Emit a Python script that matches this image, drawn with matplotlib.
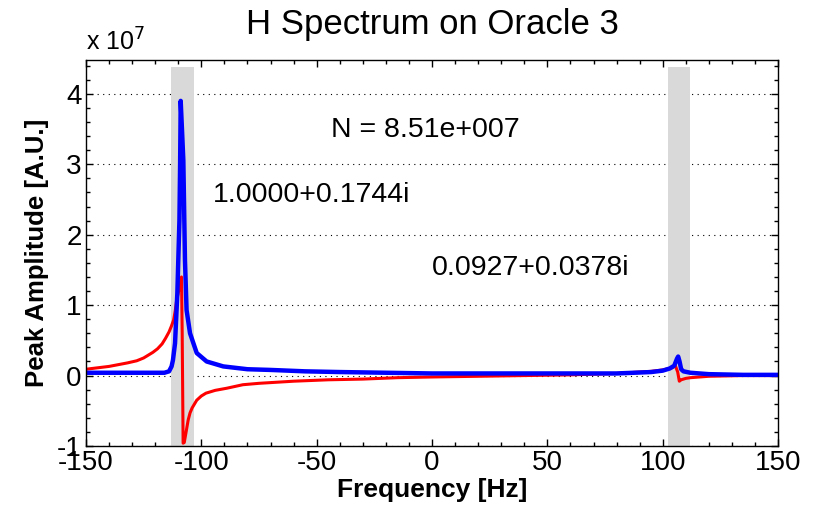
import matplotlib
matplotlib.use("Agg")
import matplotlib.pyplot as plt
from matplotlib.ticker import MultipleLocator

plt.rcParams['font.family'] = ['Liberation Sans', 'DejaVu Sans']
plt.rcParams['axes.unicode_minus'] = False

# spectrum values (amplitude in units of 1e7)
red_f = [-150, -140, -132, -128, -125, -123, -121, -119, -117, -115.5, -114, -113, -112,
         -111.3, -110.7, -109.5, -108.6, -108.3, -107.9, -107.4, -106.6, -105.7, -104.9,
         -104, -102, -100, -98, -96, -94, -89, -82, -75, -60, -45, -30, -15, 0, 20, 40, 60,
         80, 95, 100, 104, 105.5, 106.5, 107.2, 108, 110, 112, 120, 135, 150]
red_y = [0.09, 0.13, 0.18, 0.21, 0.25, 0.29, 0.33, 0.38, 0.45, 0.53, 0.62, 0.70, 0.79,
         0.92, 1.07, 1.25, 1.40, 0.60, -0.96, -0.95, -0.80, -0.63, -0.53,
         -0.46, -0.35, -0.29, -0.25, -0.23, -0.21, -0.18, -0.13, -0.11, -0.08, -0.06, -0.05,
         -0.03, -0.02, -0.01, 0.0, 0.01,
         0.03, 0.06, 0.08, 0.11, 0.14, 0.05, -0.08, -0.06, -0.04, -0.03, -0.01, 0.0, 0.0]

blue_f = [-150, -130, -116, -114, -112.9, -112.3, -111.4, -110.4, -109.5, -109.2, -108.95,
          -108.4, -107.8, -107.1, -106.4, -104.9, -102, -97.7, -90.5, -80, -70, -55, -40,
          -20, 0, 20, 50, 80, 95, 100, 103, 105, 106.2, 106.7, 107.3, 108, 109, 112, 120,
          135, 150]
blue_y = [0.04, 0.04, 0.04, 0.06, 0.13, 0.22, 0.46, 1.17, 2.20, 3.0, 3.90,
          3.50, 3.05, 1.64, 0.93, 0.60, 0.32, 0.20, 0.13, 0.09, 0.08, 0.06, 0.05,
          0.04, 0.03, 0.03, 0.03, 0.03, 0.05, 0.07, 0.10, 0.14, 0.24, 0.27, 0.20, 0.09,
          0.06, 0.04, 0.02, 0.01, 0.01]

bands = [(-113.2, -103.2), (102.1, 111.8)]
band_top = 4.38

title = 'H Spectrum on Oracle 3'
n_label = 'N = 8.51e+007'
coef_labels = ['1.0000+0.1744i', '0.0927+0.0378i']

fig = plt.figure(figsize=(8.19, 5.13), dpi=100)
ax = fig.add_axes([0.105, 0.1306, 0.845, 0.7524])

for x0, x1 in bands:
    ax.fill_between([x0, x1], -1, band_top, color='#d9d9d9', linewidth=0, zorder=1)

ax.plot(red_f, red_y, color='#ff0000', linewidth=2.2, zorder=3)
ax.plot(blue_f, blue_y, color='#0000ff', linewidth=3.2, zorder=4)

ax.set_xlim(-150, 150)
ax.set_ylim(-1, 4.48)
ax.xaxis.set_major_locator(MultipleLocator(50))
ax.xaxis.set_minor_locator(MultipleLocator(10))
ax.yaxis.set_major_locator(MultipleLocator(1))
ax.yaxis.set_minor_locator(MultipleLocator(0.2))
ax.tick_params(which='both', direction='in', top=True, right=True, labelsize=20, width=1)
ax.tick_params(which='major', length=5, pad=3)
ax.tick_params(which='minor', length=3)
ax.yaxis.grid(True, linestyle=(0, (1, 4)), color='black', linewidth=0.8, zorder=0)
ax.set_axisbelow(True)
for s in ax.spines.values():
    s.set_linewidth(1)
    s.set_zorder(5)

ax.set_xlabel('Frequency [Hz]', fontsize=19, fontweight='bold', labelpad=1)
ax.set_ylabel('Peak Amplitude [A.U.]', fontsize=18.5, fontweight='bold', labelpad=6)
ax.set_title(title, fontsize=25, pad=19)

ax.text(0.0, 1.012, r'x 10$^{7}$', transform=ax.transAxes, fontsize=18, ha='left', va='bottom')
ax.text(-44, 3.49, n_label, fontsize=20.5, ha='left', va='center')
ax.text(-95, 2.57, coef_labels[0], fontsize=20.5, ha='left', va='center')
ax.text(0, 1.53, coef_labels[1], fontsize=20.5, ha='left', va='center')

fig.savefig('out.png', dpi=100)
